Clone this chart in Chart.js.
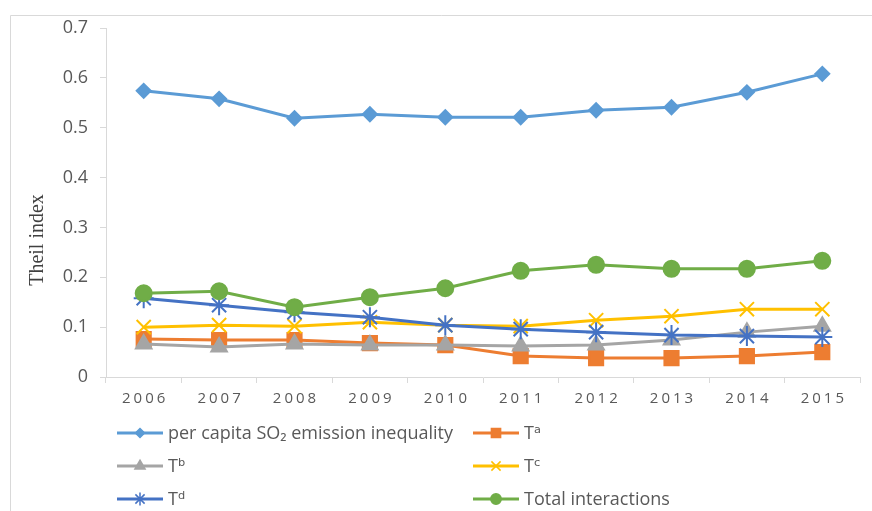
<!DOCTYPE html>
<html>
<head>
<meta charset="utf-8">
<script src="https://cdn.jsdelivr.net/npm/chart.js"></script>
<style>
  body { margin: 0; background: #fff; }
</style>
</head>
<body>
<canvas id="myChart" width="872" height="511"></canvas>
<script>
// data
var years = ["2006", "2007", "2008", "2009", "2010", "2011", "2012", "2013", "2014", "2015"];
var perCapita = [0.574, 0.558, 0.519, 0.527, 0.521, 0.521, 0.535, 0.541, 0.571, 0.608];
var tA = [0.076, 0.074, 0.074, 0.068, 0.064, 0.042, 0.038, 0.038, 0.042, 0.050];
var tB = [0.066, 0.060, 0.066, 0.064, 0.064, 0.062, 0.064, 0.074, 0.090, 0.102];
var tC = [0.100, 0.104, 0.102, 0.110, 0.104, 0.102, 0.114, 0.122, 0.136, 0.136];
var tD = [0.158, 0.144, 0.130, 0.120, 0.104, 0.096, 0.090, 0.084, 0.082, 0.080];
var totalInter = [0.168, 0.172, 0.140, 0.160, 0.178, 0.213, 0.225, 0.217, 0.217, 0.233];
var yTicks = [0, 0.1, 0.2, 0.3, 0.4, 0.5, 0.6, 0.7];
var seriesNames = ["per capita SO\u2082 emission inequality", "T\u1d43", "T\u1d47", "T\u1d9c", "T\u1d48", "Total interactions"];

var textColor = "#595959";
var lineGrey = "#d9d9d9";

function series(i, values, color, style, r) {
  return {
    label: seriesNames[i],
    data: values,
    borderColor: color,
    backgroundColor: color,
    borderWidth: 3,
    pointStyle: style,
    pointRadius: r,
    pointHoverRadius: r,
    pointBorderWidth: 2,
    pointBorderColor: color,
    pointBackgroundColor: color,
    tension: 0,
    order: 5 - i
  };
}

// legend slots: [line start x, row y]
var legendSlots = [[117, 433], [473, 433], [117, 466], [473, 466], [117, 499], [473, 499]];

var extras = {
  id: "extras",
  beforeDraw: function (chart) {
    var ctx = chart.ctx;
    ctx.save();
    ctx.strokeStyle = lineGrey;
    ctx.lineWidth = 1;
    ctx.beginPath();
    ctx.moveTo(10.5, 511);
    ctx.lineTo(10.5, 15.5);
    ctx.lineTo(872, 15.5);
    ctx.stroke();
    ctx.restore();
  },
  afterDraw: function (chart) {
    var ctx = chart.ctx;
    var xs = chart.scales.x;
    ctx.save();
    // x labels with letter spacing
    ctx.fillStyle = textColor;
    ctx.font = "15px 'Open Sans'";
    ctx.textAlign = "center";
    ctx.textBaseline = "middle";
    if ("letterSpacing" in ctx) ctx.letterSpacing = "3px";
    years.forEach(function (y, i) {
      ctx.fillText(y, xs.getPixelForValue(i) + 1.5, 399);
    });
    if ("letterSpacing" in ctx) ctx.letterSpacing = "0px";

    // y title
    ctx.save();
    ctx.translate(38, 240);
    ctx.rotate(-Math.PI / 2);
    ctx.font = "20px 'Liberation Serif'";
    ctx.fillStyle = "#404040";
    ctx.fillText("Theil index", 0, 0);
    ctx.restore();

    // legend
    ctx.textAlign = "left";
    ctx.font = "18px 'Open Sans', 'DejaVu Sans'";
    chart.data.datasets.forEach(function (ds, i) {
      var s = legendSlots[i];
      ctx.strokeStyle = ds.borderColor;
      ctx.lineWidth = 3;
      ctx.beginPath();
      ctx.moveTo(s[0], s[1]);
      ctx.lineTo(s[0] + 46, s[1]);
      ctx.stroke();
      ctx.fillStyle = ds.backgroundColor;
      ctx.lineWidth = 1.5;
      Chart.helpers.drawPoint(ctx, {pointStyle: ds.pointStyle, radius: ds.pointRadius * 0.65, rotation: 0, borderWidth: 1.5}, s[0] + 23, s[1]);
      ctx.fillStyle = textColor;
      ctx.fillText(ds.label, s[0] + 51, s[1] + 1);
    });
    ctx.restore();
  }
};

new Chart("myChart", {
  type: "line",
  data: {
    labels: years,
    datasets: [
      series(0, perCapita, "#5b9bd5", "rectRot", 7),
      series(1, tA, "#ed7d31", "rect", 10),
      series(2, tB, "#a5a5a5", "triangle", 9),
      series(3, tC, "#ffc000", "crossRot", 10),
      series(4, tD, "#4472c4", "star", 10),
      series(5, totalInter, "#70ad47", "circle", 8)
    ]
  },
  plugins: [extras],
  options: {
    responsive: false,
    animation: false,
    layout: { padding: { left: 10, right: 10, top: 28, bottom: 94 } },
    plugins: {
      legend: { display: false },
      tooltip: { enabled: false }
    },
    scales: {
      x: {
        offset: true,
        grid: { offset: true, drawOnChartArea: false, color: lineGrey, tickLength: 6 },
        border: { color: lineGrey, width: 1 },
        ticks: { color: "rgba(0,0,0,0)", font: { size: 15 } },
        afterFit: function (s) { s.height = 40; }
      },
      y: {
        min: 0,
        max: 0.7,
        afterBuildTicks: function (s) { s.ticks = yTicks.map(function (v) { return { value: v }; }); },
        grid: { drawOnChartArea: false, color: lineGrey, tickLength: 6 },
        border: { color: lineGrey, width: 1 },
        ticks: {
          color: textColor,
          padding: 12,
          font: { family: "'Open Sans'", size: 18 },
          callback: function (v) { return String(Math.round(v * 10) / 10); }
        },
        afterFit: function (s) { s.width = 96; }
      }
    }
  }
});
</script>
</body>
</html>
